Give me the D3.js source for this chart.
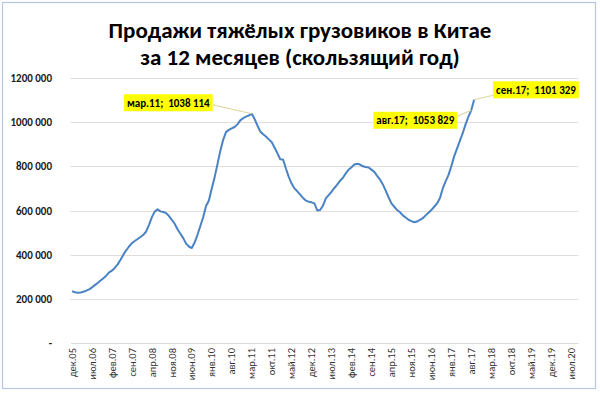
<!DOCTYPE html>
<html>
<head>
<meta charset="utf-8">
<script src="https://cdn.jsdelivr.net/npm/d3@7/dist/d3.min.js"></script>
<style>
  html, body { margin: 0; padding: 0; background: #fff; }
  svg { display: block; font-family: Carlito, Lato, "Liberation Sans", sans-serif; }
</style>
</head>
<body>
<svg id="chart" width="600" height="394"></svg>
<script>
const monthNames = ["янв", "фев", "мар", "апр", "май", "июн", "июл", "авг", "сен", "окт", "ноя", "дек"];
// категории: дек.05 ... сен.20
const categories = [];
for (let i = 0; i < 178; i++) {
    const m = (11 + i) % 12;
    const yr = 5 + Math.floor((11 + i) / 12);
    categories.push(`${monthNames[m]}.${String(yr).padStart(2, "0")}`);
}
// продажи за 12 месяцев, тыс. шт (дек.05 - сен.17)
const sales = [
    235, 230, 228, 229, 232, 237, 243, 252, 262, 272, 283, 293,
    305, 320, 328, 340, 356, 377, 400, 420, 437, 452, 462, 471,
    480, 490, 505, 535, 570, 595, 605, 596, 593, 588, 575, 558,
    540, 515, 495, 475, 450, 437, 430, 455, 490, 530, 570, 620,
    645, 700, 750, 810, 870, 920, 955, 965, 972, 978, 990, 1008,
    1018, 1025, 1030, 1038.114, 1015, 985, 958, 945, 935, 922, 910, 885,
    860, 832, 831, 790, 752, 722, 700, 687, 672, 657, 645, 640,
    637, 632, 600, 602, 622, 655, 670, 685, 702, 717, 735, 748,
    768, 785, 796, 808, 812, 808, 800, 797, 795, 785, 775, 757,
    740, 718, 690, 660, 632, 617, 602, 592, 578, 568, 558, 552,
    547, 550, 558, 565, 578, 590, 602, 617, 632, 655, 700, 732,
    760, 800, 845, 880, 915, 950, 990, 1025, 1053.829, 1101.329
].map(v => v * 1000);
const yTicks = [0, 200000, 400000, 600000, 800000, 1000000, 1200000];
const yTickLabels = ["-", "200 000", "400 000", "600 000", "800 000", "1000 000", "1200 000"];
const callouts = [
    { i: 63, text: "мар.11;  1038 114", side: "left", dx: -39, dy: -11 },
    { i: 140, text: "авг.17;  1053 829", side: "left", dx: -14, dy: 10 },
    { i: 141, text: "сен.17;  1101 329", side: "right", dx: 19, dy: -10 }
];

const svg = d3.select("#chart");

// рамка диаграммы
svg.append("rect")
    .attr("x", 2.5).attr("y", 2.5)
    .attr("width", 593).attr("height", 386)
    .attr("fill", "#fff")
    .attr("stroke", "#b4c7e7")
    .attr("stroke-width", 1.2);

// заголовок
const title = svg.append("text")
    .attr("text-anchor", "middle")
    .attr("font-weight", "bold")
    .attr("font-size", 23)
    .attr("fill", "#000");
title.append("tspan").attr("x", 300).attr("y", 38).text("Продажи тяжёлых грузовиков в Китае");
title.append("tspan").attr("x", 300).attr("y", 65).text("за 12 месяцев (скользящий год)");

const x = d3.scaleBand().domain(categories).range([70.6, 578.2]).padding(0);
const y = d3.scaleLinear().domain([0, 1200000]).range([343, 78]);
const cx = i => x(categories[i]) + x.bandwidth() / 2;

// сетка
svg.append("g")
    .selectAll("line")
    .data(yTicks.slice(1))
    .join("line")
    .attr("x1", 70.6).attr("x2", 578.2)
    .attr("y1", d => Math.round(y(d)) + 0.5)
    .attr("y2", d => Math.round(y(d)) + 0.5)
    .attr("stroke", "#e2ddd8")
    .attr("stroke-width", 1);

// ось Y
const yAxis = svg.append("g")
    .attr("transform", "translate(55,0)")
    .call(d3.axisLeft(y).tickValues(yTicks).tickSize(0).tickPadding(3)
        .tickFormat((d, i) => yTickLabels[i]));
yAxis.select(".domain").remove();
yAxis.selectAll("text")
    .attr("font-family", "Carlito, Lato, sans-serif")
    .attr("font-size", 11)
    .attr("font-weight", "bold")
    .attr("fill", "#1a1a1a");

// ось X
const xAxis = svg.append("g")
    .attr("transform", "translate(0,343)")
    .call(d3.axisBottom(x).tickValues(categories.filter((d, i) => i % 7 === 0)).tickSize(0));
xAxis.select(".domain").attr("stroke", "#d9d9d9");
xAxis.selectAll("text")
    .attr("font-family", "Carlito, Lato, sans-serif")
    .attr("font-size", 10.5)
    .attr("fill", "#333")
    .attr("text-anchor", "end")
    .attr("dy", "0.35em")
    .attr("transform", "translate(0,5) rotate(-90)")
    .attr("x", 0).attr("y", 0);

// линия продаж
svg.append("path")
    .datum(sales)
    .attr("fill", "none")
    .attr("stroke", "#4a83c4")
    .attr("stroke-width", 2)
    .attr("stroke-linejoin", "round")
    .attr("d", d3.line().x((d, i) => cx(i)).y(d => y(d)));

// подписи точек
const cg = svg.append("g");
callouts.forEach(c => {
    const px = cx(c.i), py = y(sales[c.i]);
    const t = cg.append("text")
        .attr("font-weight", "bold")
        .attr("font-size", 11)
        .attr("fill", "#000")
        .attr("dominant-baseline", "central")
        .attr("xml:space", "preserve")
        .text(c.text);
    const w = t.node().getComputedTextLength() + 6;
    const h = 17;
    const bx = c.side === "left" ? px + c.dx - w : px + c.dx;
    const by = py + c.dy - h / 2;
    cg.insert("line", "text")
        .attr("x1", c.side === "left" ? bx + w : bx)
        .attr("y1", c.side === "left" ? by + h / 2 + (c.dy < 0 ? 2 : -4) : by + h - 3)
        .attr("x2", px).attr("y2", py)
        .attr("stroke", "#dcd79a")
        .attr("stroke-width", 1.2);
    cg.insert("rect", "text")
        .attr("x", bx).attr("y", by)
        .attr("width", w).attr("height", h)
        .attr("fill", "#ffff00");
    t.attr("x", bx + 3).attr("y", by + h / 2 + 0.5);
});
</script>
</body>
</html>
